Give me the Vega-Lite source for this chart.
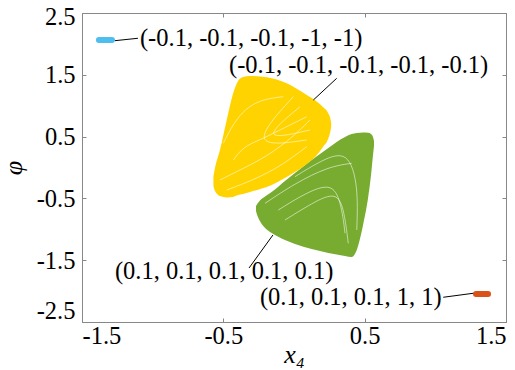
{
  "$schema": "https://vega.github.io/schema/vega-lite/v6.json",
  "width": 424,
  "height": 309,
  "autosize": {"type": "none"},
  "padding": {"left": 82, "top": 13, "right": 9, "bottom": 48},
  "background": "white",
  "config": {
    "view": {"stroke": "#888888", "strokeWidth": 1},
    "axis": {
      "grid": false,
      "domain": false,
      "tickColor": "#888888",
      "tickWidth": 1,
      "labelFont": "Liberation Serif",
      "labelFontSize": 24.5,
      "labelColor": "#000000",
      "titleFont": "Liberation Serif",
      "titleFontSize": 26,
      "titleFontWeight": "normal",
      "titleFontStyle": "italic",
      "titleColor": "#000000"
    }
  },
  "datasets": {
    "yellow": [
      {"x": -0.570, "lo": -0.299, "hi": -0.138},
      {"x": -0.559, "lo": -0.380, "hi": -0.008},
      {"x": -0.524, "lo": -0.461, "hi": 0.283},
      {"x": -0.476, "lo": -0.485, "hi": 0.769},
      {"x": -0.432, "lo": -0.477, "hi": 1.189},
      {"x": -0.396, "lo": -0.445, "hi": 1.400},
      {"x": -0.361, "lo": -0.429, "hi": 1.464},
      {"x": -0.311, "lo": -0.396, "hi": 1.481},
      {"x": -0.193, "lo": -0.316, "hi": 1.460},
      {"x": -0.052, "lo": -0.154, "hi": 1.362},
      {"x": 0.090, "lo": 0.057, "hi": 1.173},
      {"x": 0.156, "lo": 0.186, "hi": 1.076},
      {"x": 0.205, "lo": 0.332, "hi": 0.979},
      {"x": 0.241, "lo": 0.461, "hi": 0.882},
      {"x": 0.258, "lo": 0.591, "hi": 0.785},
      {"x": 0.263, "lo": 0.655, "hi": 0.720}
    ],
    "green": [
      {"x": -0.269, "lo": -0.704, "hi": -0.623},
      {"x": -0.258, "lo": -0.785, "hi": -0.583},
      {"x": -0.241, "lo": -0.866, "hi": -0.534},
      {"x": -0.205, "lo": -0.979, "hi": -0.469},
      {"x": -0.158, "lo": -1.060, "hi": -0.396},
      {"x": -0.064, "lo": -1.173, "hi": -0.218},
      {"x": 0.007, "lo": -1.238, "hi": -0.089},
      {"x": 0.125, "lo": -1.319, "hi": 0.121},
      {"x": 0.243, "lo": -1.383, "hi": 0.316},
      {"x": 0.361, "lo": -1.432, "hi": 0.494},
      {"x": 0.408, "lo": -1.448, "hi": 0.542},
      {"x": 0.444, "lo": -1.335, "hi": 0.558},
      {"x": 0.490, "lo": -0.914, "hi": 0.566},
      {"x": 0.524, "lo": -0.494, "hi": 0.561},
      {"x": 0.545, "lo": -0.121, "hi": 0.542},
      {"x": 0.559, "lo": 0.202, "hi": 0.494},
      {"x": 0.566, "lo": 0.348, "hi": 0.429}
    ],
    "streaks": [
      {"s": "yA", "i": 1, "x": -0.524, "y": -0.202},
      {"s": "yA", "i": 2, "x": -0.382, "y": -0.040},
      {"s": "yA", "i": 3, "x": -0.193, "y": 0.175},
      {"s": "yA", "i": 4, "x": -0.005, "y": 0.498},
      {"s": "yA", "i": 5, "x": 0.113, "y": 0.769},
      {"s": "yB", "i": 1, "x": -0.476, "y": -0.364},
      {"s": "yB", "i": 2, "x": -0.288, "y": -0.202},
      {"s": "yB", "i": 3, "x": -0.099, "y": 0.013},
      {"s": "yB", "i": 4, "x": 0.090, "y": 0.337},
      {"s": "yC", "i": 1, "x": -0.429, "y": 0.121},
      {"s": "yC", "i": 2, "x": -0.359, "y": 0.337},
      {"s": "yC", "i": 3, "x": -0.241, "y": 0.445},
      {"s": "yC", "i": 4, "x": -0.052, "y": 0.660},
      {"s": "yC", "i": 5, "x": 0.090, "y": 0.822},
      {"s": "yD", "i": 1, "x": 0.043, "y": 0.984},
      {"s": "yD", "i": 2, "x": -0.253, "y": 0.417},
      {"s": "yD", "i": 3, "x": 0.113, "y": 0.607},
      {"s": "yE", "i": 1, "x": -0.005, "y": 1.146},
      {"s": "yE", "i": 2, "x": -0.335, "y": 0.311},
      {"s": "yE", "i": 3, "x": 0.090, "y": 0.445},
      {"s": "yF", "i": 1, "x": -0.500, "y": 0.392},
      {"s": "yF", "i": 2, "x": -0.405, "y": 0.822},
      {"s": "yF", "i": 3, "x": -0.264, "y": 1.092},
      {"s": "yF", "i": 4, "x": -0.076, "y": 1.146},
      {"s": "g1", "i": 1, "x": -0.111, "y": -0.688},
      {"s": "g1", "i": 2, "x": 0.078, "y": -0.417},
      {"s": "g1", "i": 3, "x": 0.278, "y": -0.230},
      {"s": "g1", "i": 4, "x": 0.338, "y": -0.634},
      {"s": "g1", "i": 5, "x": 0.361, "y": -1.065},
      {"s": "g2", "i": 1, "x": -0.064, "y": -0.850},
      {"s": "g2", "i": 2, "x": 0.125, "y": -0.580},
      {"s": "g2", "i": 3, "x": 0.314, "y": -0.364},
      {"s": "g2", "i": 4, "x": 0.361, "y": -0.796},
      {"s": "g2", "i": 5, "x": 0.384, "y": -1.227},
      {"s": "g3", "i": 1, "x": 0.007, "y": -0.149},
      {"s": "g3", "i": 2, "x": 0.196, "y": 0.121},
      {"s": "g3", "i": 3, "x": 0.384, "y": 0.283},
      {"s": "g3", "i": 4, "x": 0.455, "y": -0.311},
      {"s": "g3", "i": 5, "x": 0.444, "y": -1.011},
      {"s": "g4", "i": 1, "x": -0.205, "y": -0.580},
      {"s": "g4", "i": 2, "x": 0.007, "y": -0.256},
      {"s": "g4", "i": 3, "x": 0.243, "y": 0.013},
      {"s": "g4", "i": 4, "x": 0.408, "y": 0.068}
    ],
    "segments": [
      {"series": "blue", "x": -1.380, "y": 2.063},
      {"series": "blue", "x": -1.288, "y": 2.063},
      {"series": "orange", "x": 1.288, "y": -2.047},
      {"series": "orange", "x": 1.373, "y": -2.047}
    ],
    "leaders": [
      {"x": -1.267, "y": 2.052, "x2": -1.104, "y2": 2.091},
      {"x": 0.302, "y": 1.443, "x2": 0.137, "y2": 1.092},
      {"x": -0.318, "y": -1.626, "x2": -0.149, "y2": -1.092},
      {"x": 1.056, "y": -2.100, "x2": 1.269, "y2": -2.035}
    ],
    "labels": [
      {"x": -1.090, "y": 2.079, "label": "(-0.1, -0.1, -0.1, -1, -1)"},
      {"x": -0.460, "y": 1.642, "label": "(-0.1, -0.1, -0.1, -0.1, -0.1)"},
      {"x": -1.267, "y": -1.691, "label": "(0.1, 0.1, 0.1, 0.1, 0.1)"},
      {"x": -0.241, "y": -2.104, "label": "(0.1, 0.1, 0.1, 1, 1)"}
    ]
  },
  "resolve": {"axis": {"x": "independent", "y": "independent"}},
  "layer": [
    {
      "data": {"name": "green"},
      "mark": {"type": "area", "color": "#77AC30", "interpolate": "monotone"},
      "encoding": {
        "x": {
          "field": "x", "type": "quantitative",
          "scale": {"domain": [-1.5, 1.5], "nice": false, "zero": false},
          "axis": {
            "orient": "bottom",
            "values": [-1.5, -0.5, 0.5, 1.5],
            "labelExpr": "datum.value < 0 ? '-' + format(-datum.value, '.1f') : format(datum.value, '.1f')",
            "tickSize": -4,
            "labelPadding": 6,
            "title": "x₄",
            "titlePadding": -6
          }
        },
        "y": {
          "field": "lo", "type": "quantitative",
          "scale": {"domain": [-2.5, 2.5], "nice": false, "zero": false},
          "axis": {
            "orient": "left",
            "values": [-2.5, -1.5, -0.5, 0.5, 1.5, 2.5],
            "labelExpr": "datum.value < 0 ? '-' + format(-datum.value, '.1f') : format(datum.value, '.1f')",
            "tickSize": -4,
            "labelPadding": 11,
            "labelBaseline": {"condition": {"test": "datum.value == -2.5", "value": "bottom"}, "value": "middle"},
            "labelOffset": {"condition": {"test": "datum.value == 2.5", "value": 4}, "value": 1},
            "title": "φ",
            "titlePadding": 10
          }
        },
        "y2": {"field": "hi"}
      }
    },
    {
      "data": {"name": "yellow"},
      "mark": {"type": "area", "color": "#FED300", "interpolate": "monotone"},
      "encoding": {
        "x": {
          "field": "x", "type": "quantitative",
          "axis": {"orient": "top", "values": [-1.5, -0.5, 0.5, 1.5], "labels": false, "tickSize": -4, "title": null}
        },
        "y": {
          "field": "lo", "type": "quantitative",
          "axis": {"orient": "right", "values": [-2.5, -1.5, -0.5, 0.5, 1.5, 2.5], "labels": false, "tickSize": -4, "title": null}
        },
        "y2": {"field": "hi"}
      }
    },
    {
      "data": {"name": "streaks"},
      "mark": {"type": "line", "color": "#ffffff", "strokeWidth": 1, "opacity": 0.55, "interpolate": "basis"},
      "encoding": {
        "x": {"field": "x", "type": "quantitative", "axis": null},
        "y": {"field": "y", "type": "quantitative", "axis": null},
        "detail": {"field": "s"},
        "order": {"field": "i"}
      }
    },
    {
      "data": {"name": "segments"},
      "mark": {"type": "line", "strokeWidth": 6, "strokeCap": "round"},
      "encoding": {
        "x": {"field": "x", "type": "quantitative", "axis": null},
        "y": {"field": "y", "type": "quantitative", "axis": null},
        "detail": {"field": "series"},
        "color": {
          "field": "series", "type": "nominal",
          "scale": {"domain": ["blue", "orange"], "range": ["#4DBEEE", "#D95319"]},
          "legend": null
        }
      }
    },
    {
      "data": {"name": "leaders"},
      "mark": {"type": "rule", "color": "#000000", "strokeWidth": 1},
      "encoding": {
        "x": {"field": "x", "type": "quantitative", "axis": null},
        "y": {"field": "y", "type": "quantitative", "axis": null},
        "x2": {"field": "x2"},
        "y2": {"field": "y2"}
      }
    },
    {
      "data": {"name": "labels"},
      "mark": {"type": "text", "align": "left", "baseline": "middle", "font": "Liberation Serif", "fontSize": 24.5, "color": "#000000"},
      "encoding": {
        "x": {"field": "x", "type": "quantitative", "axis": null},
        "y": {"field": "y", "type": "quantitative", "axis": null},
        "text": {"field": "label"}
      }
    }
  ]
}
